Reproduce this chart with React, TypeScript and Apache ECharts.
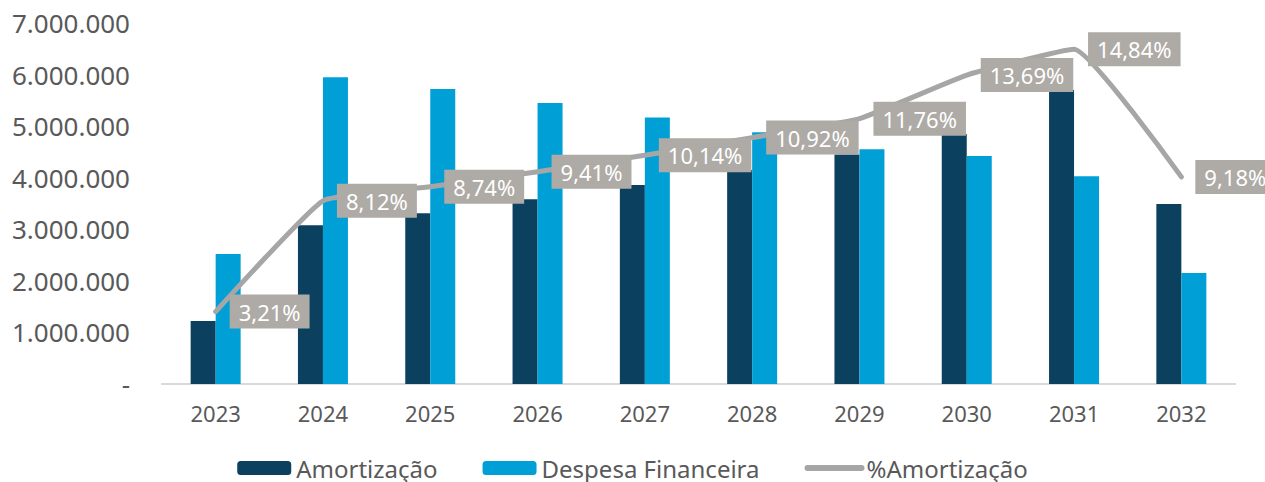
import React, { useEffect, useRef } from "react";
import * as echarts from "echarts";

const categories = ["2023", "2024", "2025", "2026", "2027", "2028", "2029", "2030", "2031", "2032"];
const amortizacao = [1220000, 3080000, 3310000, 3580000, 3860000, 4150000, 4450000, 4850000, 5700000, 3490000];
const despesaFinanceira = [2520000, 5950000, 5720000, 5450000, 5170000, 4880000, 4550000, 4420000, 4030000, 2150000];
const pctAmortizacao = [3.21, 8.12, 8.74, 9.41, 10.14, 10.92, 11.76, 13.69, 14.84, 9.18];

const fmtThousands = (v: number) => {
  if (v === 0) return "-";
  return String(Math.round(v)).replace(/\B(?=(\d{3})+(?!\d))/g, ".");
};

export default function App() {
  const ref = useRef<HTMLDivElement>(null);
  useEffect(() => {
    if (!ref.current) return;
    const chart = echarts.init(ref.current, undefined, { renderer: "svg" });
    const font = "Noto Sans";
    chart.setOption({
      animation: false,
      textStyle: { fontFamily: font },
      grid: { left: 162, right: 30, top: 23, bottom: 98 },
      legend: {
        left: "center",
        top: 451,
        padding: 0,
        itemWidth: 54,
        itemHeight: 14,
        itemGap: 45,
        textStyle: { fontFamily: font, fontSize: 24, lineHeight: 34, color: "#595959" },
        data: [
          "Amortização",
          "Despesa Financeira",
          {
            name: "%Amortização",
            itemStyle: { color: "rgba(0,0,0,0)", opacity: 0, borderWidth: 0 },
            lineStyle: { color: "#A6A6A6", width: 6, cap: "round" },
          },
        ],
      },
      xAxis: {
        type: "category",
        data: categories,
        axisLine: { lineStyle: { color: "#D9D9D9", width: 2 } },
        axisTick: { show: false },
        axisLabel: { fontFamily: font, fontSize: 22, color: "#595959", margin: 18 },
      },
      yAxis: [
        {
          type: "value",
          min: 0,
          max: 7000000,
          interval: 1000000,
          splitLine: { show: false },
          axisLine: { show: false },
          axisTick: { show: false },
          axisLabel: {
            fontFamily: font,
            fontSize: 26,
            color: "#595959",
            margin: 32,
            formatter: (v: number) => fmtThousands(v),
          },
        },
        { type: "value", min: 0, max: 16, show: false, splitLine: { show: false } },
      ],
      series: [
        {
          name: "Amortização",
          type: "bar",
          data: amortizacao,
          barWidth: 25,
          barGap: "0%",
          itemStyle: { color: "#0B405F" },
        },
        {
          name: "Despesa Financeira",
          type: "bar",
          data: despesaFinanceira,
          barWidth: 25,
          barGap: "0%",
          itemStyle: { color: "#00A0D7" },
        },
        {
          name: "%Amortização",
          type: "line",
          yAxisIndex: 1,
          data: pctAmortizacao,
          smooth: 0.12,
          symbol: "none",
          z: 5,
          lineStyle: { color: "#A6A6A6", width: 5, cap: "round", join: "round" },
          itemStyle: { color: "#A6A6A6" },
        },
        {
          name: "%Amortização rótulos",
          type: "scatter",
          yAxisIndex: 1,
          data: pctAmortizacao,
          symbolSize: 0,
          silent: true,
          z: 10,
          itemStyle: { opacity: 1 },
          label: {
            show: true,
            position: "right",
            distance: 14,
            fontFamily: font,
            fontSize: 22,
            color: "#FFFFFF",
            opacity: 1,
            backgroundColor: "#AEAAA5",
            padding: [6, 9],
            formatter: (p: any) => p.value.toFixed(2).replace(".", ",") + "%",
          },
        },
      ],
    });
    return () => chart.dispose();
  }, []);
  return <div ref={ref} style={{ width: 1265, height: 482, position: "absolute", left: 0, top: 0 }} />;
}
